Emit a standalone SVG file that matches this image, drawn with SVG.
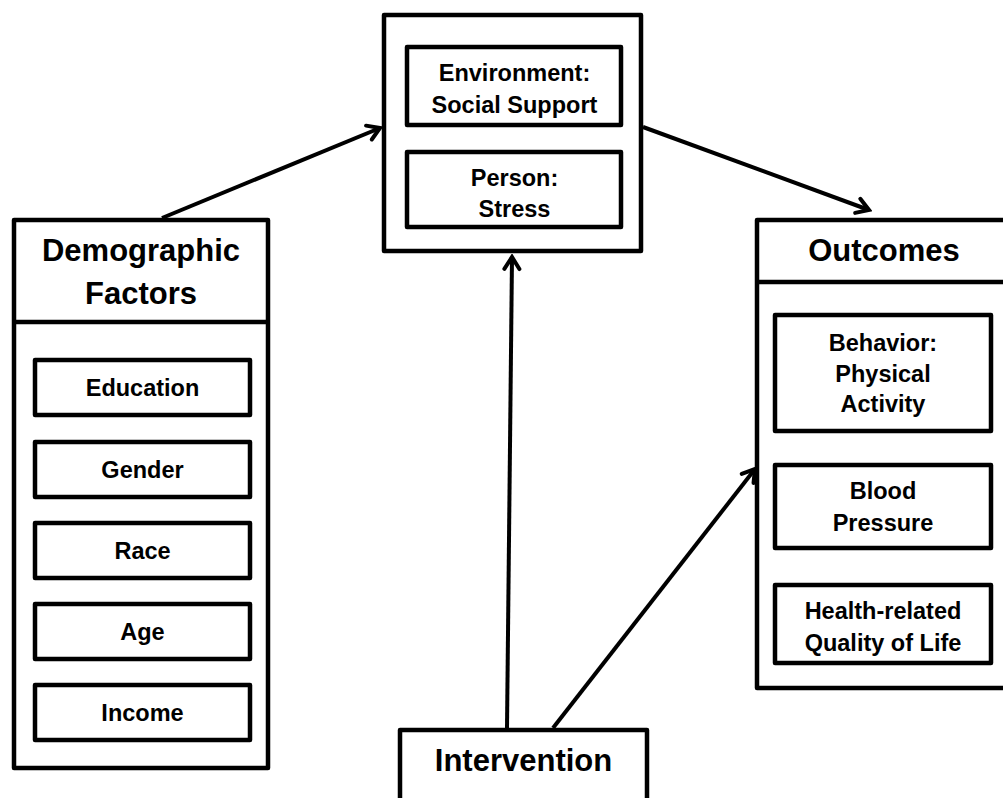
<svg xmlns="http://www.w3.org/2000/svg" width="1003" height="798" viewBox="0 0 1003 798">
<style>
.box{fill:#fff;stroke:#000;stroke-width:4.5;stroke-linejoin:round}
.div{stroke:#000;stroke-width:4.5}
.t{font-family:"Liberation Sans",Arial,sans-serif;font-weight:bold;fill:#000;text-anchor:middle}
.big{font-size:31px}
.sm{font-size:23.5px}
.con{stroke:#000;stroke-width:4;fill:none}
</style>
<defs>
<marker id="arr" viewBox="0 0 20 20" refX="17" refY="10" markerWidth="20" markerHeight="20" markerUnits="userSpaceOnUse" orient="auto">
<path d="M5,2.5 L17,10 L5,17.5" fill="none" stroke="#000" stroke-width="4" stroke-linejoin="miter" stroke-linecap="round"/>
</marker>
</defs>
<rect width="1003" height="798" fill="#fff"/>

<g id="demographic">
<rect class="box" x="14" y="220" width="254" height="548"/>
<line class="div" x1="14" y1="322" x2="268" y2="322"/>
<text class="t big" x="141" y="261">Demographic</text>
<text class="t big" x="141" y="304">Factors</text>
<g id="education"><rect class="box" x="35" y="360" width="215" height="55"/><text class="t sm" x="142.5" y="396">Education</text></g>
<g id="gender"><rect class="box" x="35" y="442" width="215" height="55"/><text class="t sm" x="142.5" y="478">Gender</text></g>
<g id="race"><rect class="box" x="35" y="523" width="215" height="55"/><text class="t sm" x="142.5" y="559">Race</text></g>
<g id="age"><rect class="box" x="35" y="604" width="215" height="55"/><text class="t sm" x="142.5" y="640">Age</text></g>
<g id="income"><rect class="box" x="35" y="685" width="215" height="55"/><text class="t sm" x="142.5" y="721">Income</text></g>
</g>

<g id="mediators">
<rect class="box" x="384" y="15" width="257" height="236"/>
<g id="environment"><rect class="box" x="407" y="47" width="214" height="78"/><text class="t sm" x="514.5" y="80.5">Environment:</text><text class="t sm" x="514.5" y="112.5">Social Support</text></g>
<g id="person"><rect class="box" x="407" y="152" width="214" height="75"/><text class="t sm" x="514.5" y="185.5">Person:</text><text class="t sm" x="514.5" y="216.5">Stress</text></g>
</g>

<g id="outcomes">
<rect class="box" x="757" y="220" width="260" height="468"/>
<line class="div" x1="757" y1="282" x2="1003" y2="282"/>
<text class="t big" x="884" y="261">Outcomes</text>
<g id="behavior"><rect class="box" x="775" y="315" width="216" height="116"/><text class="t sm" x="883" y="350.5">Behavior:</text><text class="t sm" x="883" y="381.5">Physical</text><text class="t sm" x="883" y="411.5">Activity</text></g>
<g id="bp"><rect class="box" x="775" y="465" width="216" height="83"/><text class="t sm" x="883" y="498.5">Blood</text><text class="t sm" x="883" y="530.5">Pressure</text></g>
<g id="hrqol"><rect class="box" x="775" y="585" width="216" height="78"/><text class="t sm" x="883" y="618.5">Health-related</text><text class="t sm" x="883" y="650.5">Quality of Life</text></g>
</g>

<g id="intervention">
<rect class="box" x="400" y="730" width="247" height="80"/>
<text class="t big" x="523.5" y="771">Intervention</text>
</g>

<g id="connectors">
<line class="con" x1="162" y1="218" x2="380" y2="128" marker-end="url(#arr)"/>
<line class="con" x1="643" y1="127" x2="869" y2="210" marker-end="url(#arr)"/>
<line class="con" x1="507" y1="728" x2="512" y2="257" marker-end="url(#arr)"/>
<line class="con" x1="553" y1="728" x2="755" y2="469" marker-end="url(#arr)"/>
</g>
</svg>
